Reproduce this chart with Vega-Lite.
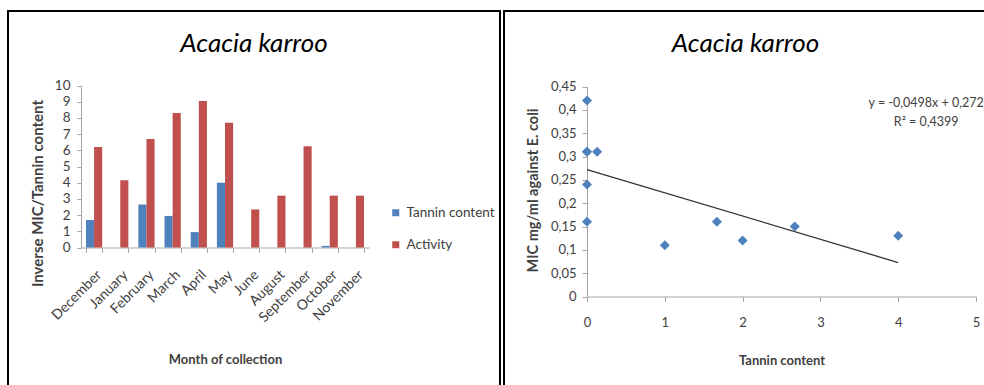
{
  "$schema": "https://vega.github.io/schema/vega-lite/v6.json",
  "padding": {"left": 7, "top": 10, "right": 0, "bottom": 0},
  "autosize": {"type": "pad"},
  "background": "white",
  "spacing": 2,
  "config": {
    "view": {"stroke": "black", "strokeWidth": 2},
    "font": "Lato",
    "axis": {
      "domainColor": "#A6A6A6", "tickColor": "#A6A6A6", "grid": false,
      "labelColor": "#404040", "labelFont": "Lato", "titleFont": "Lato",
      "titleColor": "#404040", "labelFontSize": 13, "titleFontSize": 13, "titleFontWeight": "bold",
      "labelFlush": false
    },
    "title": {
      "font": "Lato", "fontStyle": "italic", "fontSize": 26, "fontWeight": "normal",
      "color": "black", "anchor": "middle", "frame": "group", "baseline": "alphabetic", "offset": -46
    }
  },
  "hconcat": [
    {
      "width": 492,
      "height": 376,
      "title": {"text": "Acacia karroo"},
      "data": {"values": [
        {"month": "December", "series": "Tannin content", "value": 1.7},
        {"month": "December", "series": "Activity", "value": 6.2},
        {"month": "January", "series": "Tannin content", "value": 0},
        {"month": "January", "series": "Activity", "value": 4.15},
        {"month": "February", "series": "Tannin content", "value": 2.65},
        {"month": "February", "series": "Activity", "value": 6.7},
        {"month": "March", "series": "Tannin content", "value": 1.95},
        {"month": "March", "series": "Activity", "value": 8.3},
        {"month": "April", "series": "Tannin content", "value": 0.95},
        {"month": "April", "series": "Activity", "value": 9.05},
        {"month": "May", "series": "Tannin content", "value": 4.0},
        {"month": "May", "series": "Activity", "value": 7.7},
        {"month": "June", "series": "Tannin content", "value": 0},
        {"month": "June", "series": "Activity", "value": 2.35},
        {"month": "August", "series": "Tannin content", "value": 0},
        {"month": "August", "series": "Activity", "value": 3.2},
        {"month": "September", "series": "Tannin content", "value": 0},
        {"month": "September", "series": "Activity", "value": 6.25},
        {"month": "October", "series": "Tannin content", "value": 0.1},
        {"month": "October", "series": "Activity", "value": 3.2},
        {"month": "November", "series": "Tannin content", "value": 0},
        {"month": "November", "series": "Activity", "value": 3.2}
      ]},
      "mark": {"type": "bar"},
      "encoding": {
        "x": {
          "field": "month", "type": "nominal",
          "sort": ["December", "January", "February", "March", "April", "May", "June", "August", "September", "October", "November"],
          "scale": {"range": [73, 361], "paddingInner": 0.38, "paddingOuter": 0.19},
          "axis": {
            "title": "Month of collection", "labelAngle": -45, "tickBand": "extent",
            "tickSize": 5, "labelPadding": 15, "offset": -139.5, "labelFontSize": 14,
            "titleX": 217, "titleY": 112, "titleBaseline": "middle"
          }
        },
        "xOffset": {
          "field": "series", "type": "nominal", "sort": ["Tannin content", "Activity"],
          "scale": {"paddingInner": 0, "paddingOuter": 0}
        },
        "y": {
          "field": "value", "type": "quantitative",
          "scale": {"domain": [0, 10], "range": [236.5, 74.5], "nice": false},
          "axis": {
            "title": "Inverse MIC/Tannin content", "values": [0, 1, 2, 3, 4, 5, 6, 7, 8, 9, 10],
            "offset": -73, "tickSize": 4, "labelPadding": 7, "labelFontSize": 13.5,
            "titleFontSize": 15,
            "titleX": -44, "titleY": 182, "titleBaseline": "middle"
          }
        },
        "color": {
          "field": "series", "type": "nominal", "sort": ["Tannin content", "Activity"],
          "scale": {"domain": ["Tannin content", "Activity"], "range": ["#4F81BD", "#C0504D"]},
          "legend": {
            "title": null, "orient": "none", "legendX": 381, "legendY": 195,
            "symbolType": "square", "symbolSize": 49, "labelFontSize": 13.5,
            "rowPadding": 17, "labelColor": "#404040", "labelFont": "Lato", "labelOffset": 4
          }
        }
      }
    },
    {
      "width": 483,
      "height": 376,
      "title": {"text": "Acacia karroo"},
      "encoding": {
        "x": {
          "field": "x", "type": "quantitative",
          "scale": {"domain": [0, 5], "range": [83, 472], "nice": false, "zero": false},
          "axis": {
            "title": "Tannin content", "values": [0, 1, 2, 3, 4, 5],
            "offset": -90.5, "tickSize": 5, "labelPadding": 15,
            "titleX": 277.5, "titleY": 64, "titleBaseline": "middle"
          }
        },
        "y": {
          "field": "y", "type": "quantitative",
          "scale": {"domain": [0, 0.45], "range": [285.5, 75.5], "nice": false, "zero": false},
          "axis": {
            "title": "MIC mg/ml against E. coli",
            "values": [0, 0.05, 0.1, 0.15, 0.2, 0.25, 0.3, 0.35, 0.4, 0.45],
            "labelExpr": "replace(format(datum.value, '.2~f'), '.', ',')",
            "offset": -83, "tickSize": 5, "labelPadding": 6,
            "titleFontSize": 14.5,
            "titleX": -54, "titleY": 179, "titleBaseline": "middle"
          }
        }
      },
      "layer": [
        {
          "data": {"values": [{"x": 0, "y": 0.272}, {"x": 4, "y": 0.0728}]},
          "mark": {"type": "line", "color": "#333333", "strokeWidth": 1.3}
        },
        {
          "data": {"values": [
            {"x": 0, "y": 0.42},
            {"x": 0, "y": 0.31},
            {"x": 0.13, "y": 0.31},
            {"x": 0, "y": 0.31},
            {"x": 0, "y": 0.24},
            {"x": 0, "y": 0.16},
            {"x": 1, "y": 0.11},
            {"x": 1.67, "y": 0.16},
            {"x": 2, "y": 0.12},
            {"x": 2.67, "y": 0.15},
            {"x": 4, "y": 0.13}
          ]},
          "mark": {"type": "point", "shape": "diamond", "filled": true, "size": 100, "color": "#4F81BD", "opacity": 1}
        },
        {
          "data": {"values": [
            {"x": 4.36, "y": 0.4157, "label": "y = -0,0498x + 0,272"},
            {"x": 4.36, "y": 0.3729, "label": "R² = 0,4399"}
          ]},
          "mark": {"type": "text", "align": "center", "baseline": "middle", "fontSize": 12.5, "color": "#404040", "font": "Lato"},
          "encoding": {"text": {"field": "label", "type": "nominal"}}
        }
      ]
    }
  ]
}
